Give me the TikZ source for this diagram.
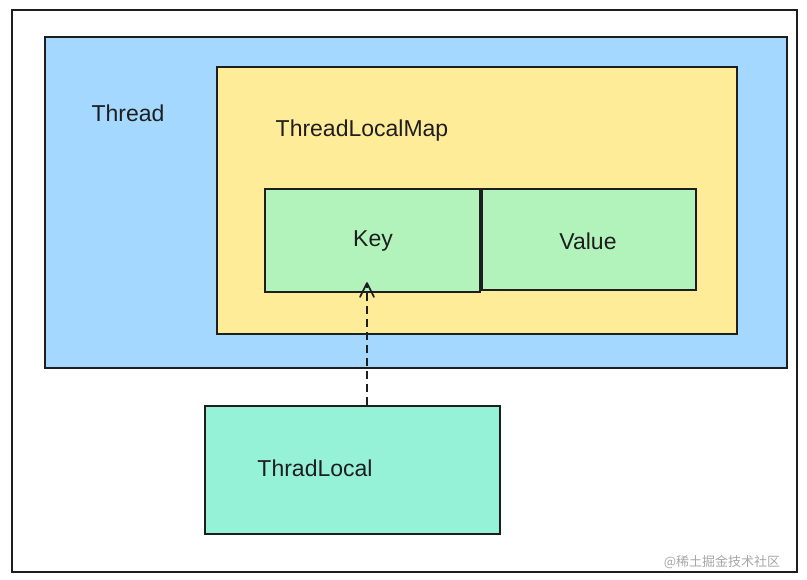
\documentclass[tikz,border=0pt]{standalone}
\usepackage{fontspec}
\setmainfont{Liberation Sans}
\newfontfamily\cjk{Noto Sans CJK SC}
\usetikzlibrary{arrows.meta}
\definecolor{bluef}{HTML}{A5D8FF}
\definecolor{yellowf}{HTML}{FFEC99}
\definecolor{greenf}{HTML}{B2F2BB}
\definecolor{tealf}{HTML}{96F2D7}
\definecolor{ink}{HTML}{1E1E1E}
\begin{document}
\begin{tikzpicture}[x=1pt,y=-1pt,
  box/.style={draw=ink,line width=1.6pt},
  lbl/.style={text=ink,font=\fontsize{23}{26}\selectfont}]
\useasboundingbox (0,0) rectangle (807,580);
\node[draw=ink,line width=1.4pt,minimum width=785pt,minimum height=562pt,inner sep=0pt] (frame) at (404.5,291) {};
\node[box,fill=bluef,minimum width=742pt,minimum height=331pt,inner sep=0pt] (thread) at (416,202.5) {};
\node[box,fill=yellowf,minimum width=520pt,minimum height=267pt,inner sep=0pt] (map) at (477,200.5) {};
\node[box,fill=greenf,minimum width=215pt,minimum height=103pt,inner sep=0pt] (key) at (372.5,240.5) {};
\node[box,fill=greenf,minimum width=214pt,minimum height=101pt,inner sep=0pt] (value) at (589,239.5) {};
\node[box,fill=tealf,minimum width=295pt,minimum height=128pt,inner sep=0pt] (tl) at (352.5,470) {};
\node[lbl] at (128,113) {Thread};
\node[lbl] at (362,131) {ThreadLocalMap};
\node[lbl] at (373,241) {Key};
\node[lbl] at (588,241) {Value};
\node[lbl] at (315,468) {ThradLocal};
\coordinate (tip) at (367,283);
\draw[draw=ink,line width=1.6pt,dash pattern=on 8pt off 5pt] (tl.north -| tip) -- (tip);
\draw[draw=ink,line width=1.6pt,line cap=round,line join=round] ([xshift=-7pt,yshift=-14pt]tip) -- (tip) -- ([xshift=7pt,yshift=-14pt]tip);
\node[text=gray!70,font=\cjk\fontsize{13}{15}\selectfont] (wm) at (722,562) {@稀土掘金技术社区};
\end{tikzpicture}
\end{document}
